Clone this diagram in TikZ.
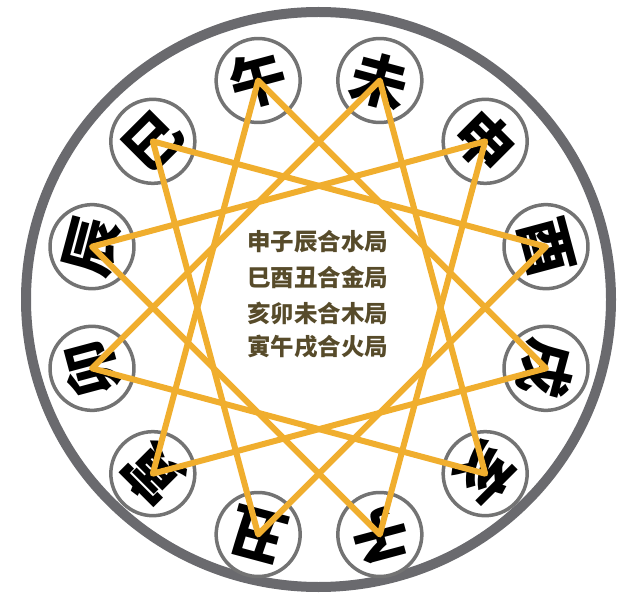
\documentclass[tikz,border=0pt]{standalone}
\usepackage{fontspec}
\usepackage{tikz}
\usetikzlibrary{calc}
\newfontfamily\cjk{Noto Sans CJK SC}
\definecolor{ringgray}{HTML}{6A6A6E}
\definecolor{circgray}{HTML}{737373}
\definecolor{gold}{HTML}{F0AE2E}
\definecolor{brown}{HTML}{574B2A}
\tikzset{
  ring/.style={draw=ringgray, line width=10pt},
  branch/.style={circle, draw=circgray, line width=3.5pt, fill=white, minimum size=84pt, inner sep=0pt,
    font=\cjk\bfseries\fontsize{57}{57}\selectfont},
  trine/.style={draw=gold, line width=6pt, line join=round},
  labm/.style={text=brown, font=\cjk\bfseries\fontsize{23.5}{23.5}\selectfont}
}

\begin{document}
\begin{tikzpicture}[x=1pt, y=1pt]
  \useasboundingbox (0,0) rectangle (640,598);
  \coordinate (O) at (319,290.5);

  \draw[ring] (318.5,298.5) ellipse [x radius=292.5, y radius=287.5];

  \node[branch, rotate=15]  (wu)   at ($(O)+(105:235pt)$) {午};
  \node[branch, rotate=-15] (wei)  at ($(O)+(75:235pt)$)  {未};
  \node[branch, rotate=-45] (shen) at ($(O)+(45:235pt)$)  {申};
  \node[branch, rotate=-75] (you)  at ($(O)+(15:235pt)$)  {酉};
  \node[branch, rotate=-105] (xu)  at ($(O)+(-15:235pt)$) {戌};
  \node[branch, rotate=-135] (hai) at ($(O)+(-45:235pt)$) {亥};
  \node[branch, rotate=195] (zi)   at ($(O)+(-75:235pt)$) {子};
  \node[branch, rotate=165] (chou) at ($(O)+(255:235pt)$) {丑};
  \node[branch, rotate=135] (yin)  at ($(O)+(225:235pt)$) {寅};
  \node[branch, rotate=105] (mao)  at ($(O)+(195:235pt)$) {卯};
  \node[branch, rotate=75]  (chen) at ($(O)+(165:235pt)$) {辰};
  \node[branch, rotate=45]  (si)   at ($(O)+(135:235pt)$) {巳};

  \draw[trine] (shen.center) -- (zi.center) -- (chen.center) -- cycle;
  \draw[trine] (si.center) -- (you.center) -- (chou.center) -- cycle;
  \draw[trine] (hai.center) -- (mao.center) -- (wei.center) -- cycle;
  \draw[trine] (yin.center) -- (wu.center) -- (xu.center) -- cycle;

  \node[labm] (shui) at (317.5,356) {申子辰合水局};
  \node[labm] (jin)  at (317.5,321) {巳酉丑合金局};
  \node[labm] (mu)   at (317.5,285) {亥卯未合木局};
  \node[labm] (huo)  at (317.5,251) {寅午戌合火局};
\end{tikzpicture}
\end{document}
